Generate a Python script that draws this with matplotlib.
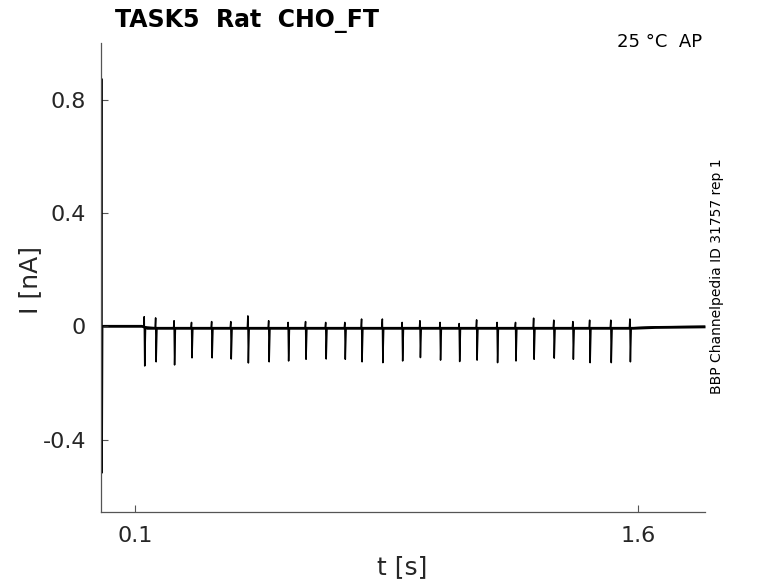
import numpy as np
import matplotlib
matplotlib.use("Agg")
import matplotlib.pyplot as plt

# spike times (s) and tip amplitudes (nA)
SPIKE_T = [0.128, 0.162, 0.217, 0.269, 0.329, 0.386, 0.437, 0.499, 0.557,
           0.609, 0.669, 0.726, 0.776, 0.838, 0.897, 0.950, 1.010, 1.067,
           1.119, 1.180, 1.235, 1.289, 1.349, 1.406, 1.456, 1.519, 1.576]
SPIKE_DOWN = [-0.138, -0.120, -0.131, -0.106, -0.106, -0.110, -0.124, -0.120,
              -0.117, -0.111, -0.110, -0.111, -0.120, -0.123, -0.117, -0.105,
              -0.114, -0.119, -0.114, -0.123, -0.117, -0.111, -0.107, -0.111,
              -0.123, -0.123, -0.120]
SPIKE_UP = [0.036, 0.035, 0.025, 0.019, 0.022, 0.022, 0.042, 0.025, 0.019,
            0.022, 0.019, 0.019, 0.031, 0.031, 0.019, 0.025, 0.019, 0.015,
            0.028, 0.019, 0.019, 0.034, 0.027, 0.022, 0.027, 0.027, 0.031]

# capacitive transient at the start of the sweep
TRANS_T = [0.0, 0.0012, 0.0024, 0.004]
TRANS_I = [0.0, 0.874, -0.517, 0.002]

# slow baseline drift
BASE_T = [0.004, 0.12, 0.135, 1.585, 1.65, 1.8]
BASE_I = [0.002, 0.002, -0.005, -0.005, -0.002, 0.0]
NOISE = 0.005  # half-width of the baseline noise band (nA)

TITLE = "TASK5  Rat  CHO_FT"
COND = "25 \u00b0C  AP"
SIDE = "BBP Channelpedia ID 31757 rep 1"


def build_trace():
    t = list(TRANS_T) + BASE_T[:2]
    y = list(TRANS_I) + BASE_I[:2]
    for ts, up, dn in zip(SPIKE_T, SPIKE_UP, SPIKE_DOWN):
        b = np.interp(ts, BASE_T, BASE_I)
        t += [ts - 0.0015, ts, ts + 0.0015, ts + 0.004]
        y += [b, b + up, b + dn, b]
    t += BASE_T[3:]
    y += BASE_I[3:]
    return np.array(t), np.array(y)


def main():
    fig = plt.figure(figsize=(7.78, 5.83), dpi=100)
    ax = fig.add_axes([0.1302, 0.1218, 0.776, 0.8044])

    t, y = build_trace()
    ax.fill_between(BASE_T, np.array(BASE_I) - NOISE, np.array(BASE_I) + NOISE,
                    color="black", lw=0)
    ax.plot(t, y, color="black", lw=1.1)

    ax.set_xlim(0, 1.8)
    ax.set_ylim(-0.655, 1.0)
    ax.set_xticks([0.1, 1.6])
    ax.set_xticklabels(["0.1", "1.6"])
    ax.set_yticks([-0.4, 0, 0.4, 0.8])
    ax.set_yticklabels(["-0.4", "0", "0.4", "0.8"])

    for s in ["top", "right"]:
        ax.spines[s].set_visible(False)
    for s in ["left", "bottom"]:
        ax.spines[s].set_color("#555555")
        ax.spines[s].set_linewidth(0.9)
    ax.tick_params(direction="in", length=5, width=0.8, color="#555555",
                   labelsize=16, labelcolor="#262626")
    ax.tick_params(axis="y", pad=11)
    ax.tick_params(axis="x", pad=10)

    fig.text(0.148, 0.9537, TITLE, fontsize=17, fontweight="bold",
             ha="left", va="baseline")
    fig.text(0.902, 0.920, COND, fontsize=13, ha="right", va="baseline")
    fig.text(0.9216, 0.526, SIDE, fontsize=10, rotation=90,
             ha="center", va="center")
    fig.text(0.0386, 0.52, "I [nA]", fontsize=18, rotation=90,
             ha="center", va="center", color="#262626")
    fig.text(0.517, 0.027, "t [s]", fontsize=18, ha="center", va="center",
             color="#262626")

    fig.savefig("out.png", dpi=100)


if __name__ == "__main__":
    main()
